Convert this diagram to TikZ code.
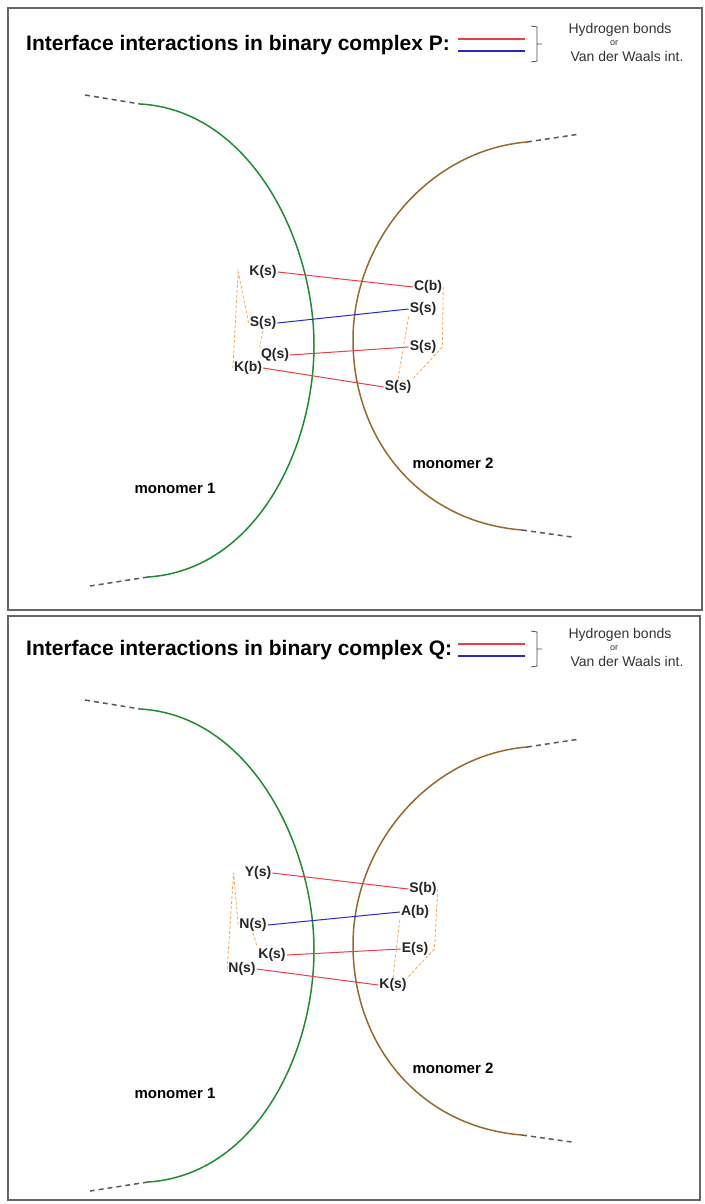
\documentclass[tikz,border=0pt]{standalone}
\usepackage{fontspec}
\setmainfont{Liberation Sans}
\usetikzlibrary{positioning}
\definecolor{bondred}{RGB}{236,62,72}
\definecolor{bondblue}{RGB}{40,40,200}
\definecolor{chaingreen}{RGB}{30,140,50}
\definecolor{chainbrown}{RGB}{150,105,45}
\definecolor{contactorange}{RGB}{242,168,88}

\begin{document}
\begin{tikzpicture}[x=1pt, y=-1pt,
	residue/.style={font=\fontsize{14}{14}\selectfont\bfseries, text=black!85, inner sep=1pt},
	heading/.style={font=\fontsize{21}{21}\selectfont\bfseries, anchor=west, inner sep=0pt},
	keytext/.style={font=\fontsize{14}{14}\selectfont, text=black!80, inner sep=0pt},
	monomertext/.style={font=\fontsize{15}{15}\selectfont\bfseries, inner sep=0pt},
	hbond/.style={draw=bondred, line width=1pt},
	vdw/.style={draw=bondblue, line width=1pt},
	keyline/.style={draw=black!70, line width=0.8pt},
	contact/.style={draw=contactorange, dash pattern=on 3pt off 2pt, line width=0.8pt},
	chainA/.style={draw=chaingreen, line width=1.5pt},
	chainB/.style={draw=chainbrown, line width=1.5pt},
	chainend/.style={draw=black!65, dash pattern=on 5pt off 4pt, line width=1.5pt},
	panel/.style={draw=black!60, line width=1.5pt}]

	\useasboundingbox (0,0) rectangle (704,1204);
	\draw [panel] (8,8) rectangle (702,610);
	\draw [panel] (8,616) rectangle (700,1200);

	% Complex P
	\begin{scope}
	\node [heading] (ptitle) at (26,45) {Interface interactions in binary complex P:};
	\draw [hbond, line width=2pt] (458,39) -- (525,39);
	\draw [vdw, line width=2pt] (458,51) -- (525,51);
	\draw [keyline] (531,26) -- (537,27) -- (537,61) -- (531,62) (537,44) -- (542,44);
	\node [keytext] (pkey1) at (620,30) {Hydrogen bonds};
	\node [keytext, font=\fontsize{9}{9}\selectfont] (pkey2) at (614,43) {or};
	\node [keytext] (pkey3) at (627,56) {Van der Waals int.};

	% Monomers
	\draw [chainend] (85,95) -- (140,104);
	\draw [chainA] (140,104) .. controls (250,110) and (314,240) .. (314,345)
		.. controls (314,450) and (255,570) .. (148,577);
	\draw [chainend] (148,577) -- (90,586);
	\draw [chainend] (527,142) -- (580,134);
	\draw [chainB] (527,142) .. controls (430,150) and (353,240) .. (353,340)
		.. controls (353,440) and (420,522) .. (522,530);
	\draw [chainend] (522,530) -- (572,537);
	\node [monomertext] (pm1) at (175,488) {monomer 1};
	\node [monomertext] (pm2) at (453,463) {monomer 2};

	% Residues
	\node [residue] (pa1) at (263,272) {K(s)};
	\node [residue] (pa2) at (263,323) {S(s)};
	\node [residue] (pa3) at (275,355) {Q(s)};
	\node [residue] (pa4) at (248,368) {K(b)};
	\node [residue] (pb1) at (428,287) {C(b)};
	\node [residue] (pb2) at (423,309) {S(s)};
	\node [residue] (pb3) at (423,347) {S(s)};
	\node [residue] (pb4) at (398,387) {S(s)};

	% Interactions
	\draw [hbond] (pa1.east) -- (pb1.west);
	\draw [vdw]   (pa2.east) -- (pb2.west);
	\draw [hbond] (pa3.east) -- (pb3.west);
	\draw [hbond] (pa4.east) -- (pb4.west);
	\draw [contact] (pa4.west) -- ([xshift=-10pt]pa1.west) -- (pa2.west);
	\draw [contact] (pa2.south) -- (pa3.north west);
	\draw [contact] (pb1.east) -- ([xshift=5pt]pb3.east) -- (pb4.north east);
	\draw [contact] (pb2.south west) -- (pb4.north);
	\end{scope}

	% Complex Q
	\begin{scope}[shift={(0,605)}]
	\node [heading] (qtitle) at (26,45) {Interface interactions in binary complex Q:};
	\draw [hbond, line width=2pt] (458,39) -- (525,39);
	\draw [vdw, line width=2pt] (458,51) -- (525,51);
	\draw [keyline] (531,26) -- (537,27) -- (537,61) -- (531,62) (537,44) -- (542,44);
	\node [keytext] (qkey1) at (620,30) {Hydrogen bonds};
	\node [keytext, font=\fontsize{9}{9}\selectfont] (qkey2) at (614,43) {or};
	\node [keytext] (qkey3) at (627,56) {Van der Waals int.};

	% Monomers
	\draw [chainend] (85,95) -- (140,104);
	\draw [chainA] (140,104) .. controls (250,110) and (314,240) .. (314,345)
		.. controls (314,450) and (255,570) .. (148,577);
	\draw [chainend] (148,577) -- (90,586);
	\draw [chainend] (527,142) -- (580,134);
	\draw [chainB] (527,142) .. controls (430,150) and (353,240) .. (353,340)
		.. controls (353,440) and (420,522) .. (522,530);
	\draw [chainend] (522,530) -- (572,537);
	\node [monomertext] (qm1) at (175,488) {monomer 1};
	\node [monomertext] (qm2) at (453,463) {monomer 2};

	% Residues
	\node [residue] (qa1) at (258,268) {Y(s)};
	\node [residue] (qa2) at (253,320) {N(s)};
	\node [residue] (qa3) at (272,350) {K(s)};
	\node [residue] (qa4) at (242,364) {N(s)};
	\node [residue] (qb1) at (423,284) {S(b)};
	\node [residue] (qb2) at (415,307) {A(b)};
	\node [residue] (qb3) at (415,344) {E(s)};
	\node [residue] (qb4) at (393,380) {K(s)};

	% Interactions
	\draw [hbond] (qa1.east) -- (qb1.west);
	\draw [vdw]   (qa2.east) -- (qb2.west);
	\draw [hbond] (qa3.east) -- (qb3.west);
	\draw [hbond] (qa4.east) -- (qb4.west);
	\draw [contact] (qa4.west) -- ([xshift=-10pt]qa1.west) -- (qa2.west);
	\draw [contact] (qa2.south) -- (qa3.north west);
	\draw [contact] (qb1.east) -- ([xshift=5pt]qb3.east) -- (qb4.north east);
	\draw [contact] (qb2.south west) -- (qb4.north);
	\end{scope}

\end{tikzpicture}
\end{document}
